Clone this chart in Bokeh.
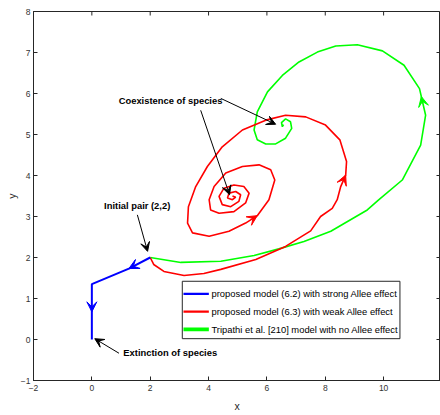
import math
from bokeh.plotting import figure
from bokeh.models import Arrow, VeeHead, Range1d, FixedTicker
from bokeh.core.properties import value
from bokeh.embed import file_html
from bokeh.resources import INLINE

# ---------------- data ----------------
strong_x = [2.0, 1.27, 0.0, 0.0]
strong_y = [2.0, 1.73, 1.35, 0.0]

weak_x = [2.0, 2.12, 2.47, 3.16, 3.84, 4.42, 5.62, 6.64, 7.50, 7.84, 8.24, 8.41,
          8.53, 8.70, 8.73, 8.50, 8.01, 7.33, 6.64, 5.96, 5.16, 4.47, 3.96, 3.56,
          3.31, 3.28, 3.45, 4.02, 4.70, 5.27, 5.67, 6.07, 6.27, 6.13, 5.73, 5.16,
          4.59, 4.19, 4.02, 4.07, 4.36, 4.87, 5.27, 5.39, 5.21, 4.87, 4.53, 4.36,
          4.47, 4.76, 5.04, 5.10, 4.93, 4.70, 4.65, 4.82, 4.93, 4.82]
weak_y = [2.0, 1.83, 1.66, 1.56, 1.61, 1.71, 1.95, 2.27, 2.65, 3.00, 3.20, 3.41,
          3.73, 4.01, 4.34, 4.87, 5.23, 5.43, 5.47, 5.35, 5.11, 4.70, 4.22, 3.73,
          3.24, 2.84, 2.60, 2.52, 2.64, 2.84, 3.02, 3.41, 3.89, 4.14, 4.26, 4.22,
          4.06, 3.73, 3.41, 3.16, 3.08, 3.12, 3.33, 3.57, 3.73, 3.77, 3.69, 3.49,
          3.29, 3.24, 3.37, 3.53, 3.61, 3.57, 3.45, 3.41, 3.47, 3.50]

none_x = [2.0, 3.05, 4.42, 5.56, 6.41, 7.27, 8.19, 9.44, 9.84, 10.64, 11.27, 11.44,
          11.23, 10.70, 9.96, 9.10, 8.36, 7.73, 7.10, 6.53, 6.02, 5.67, 5.56, 5.67,
          5.96, 6.30, 6.64, 6.85, 6.81, 6.64, 6.50, 6.53, 6.57]
none_y = [2.0, 1.88, 1.91, 2.05, 2.21, 2.39, 2.64, 3.16, 3.41, 3.89, 4.74, 5.47,
          6.12, 6.69, 7.04, 7.19, 7.16, 7.01, 6.77, 6.44, 6.04, 5.55, 5.11, 4.87,
          4.77, 4.77, 4.91, 5.15, 5.31, 5.38, 5.29, 5.19, 5.24]

legend_labels = ["proposed model (6.2) with strong Allee effect",
                 "proposed model (6.3) with weak Allee effect",
                 "Tripathi et al. [210] model with no Allee effect"]

x_ticks = [-2, 0, 2, 4, 6, 8, 10, 12]
y_ticks = [-1, 0, 1, 2, 3, 4, 5, 6, 7, 8]

BLUE = "#0000ff"
RED = "#ff0000"
GREEN = "#00ff00"
AX = "#262626"
FONT = "Liberation Sans"

X_MIN, X_MAX = -2, 11.95
Y_MIN, Y_MAX = -1, 8

# ---------------- figure ----------------
p = figure(width=440, height=415, x_range=Range1d(X_MIN, X_MAX),
           y_range=Range1d(Y_MIN, Y_MAX),
           output_backend="svg", toolbar_location=None,
           min_border_left=33, min_border_right=0, min_border_top=11,
           min_border_bottom=35)
p.background_fill_color = "white"
p.border_fill_color = "white"
p.outline_line_color = AX
p.outline_line_width = 1
p.grid.visible = False

p.xaxis.ticker = FixedTicker(ticks=x_ticks)
p.yaxis.ticker = FixedTicker(ticks=y_ticks)
p.xaxis.axis_label = "x"
p.yaxis.axis_label = "y"
for ax in (p.xaxis[0], p.yaxis[0]):
    ax.major_tick_in = 4
    ax.major_tick_out = 0
    ax.minor_tick_line_color = None
    ax.axis_line_color = AX
    ax.major_tick_line_color = AX
    ax.major_label_text_font = FONT
    ax.major_label_text_font_size = "8.5px"
    ax.major_label_text_color = "#333333"
    ax.major_label_standoff = 4
    ax.axis_label_text_font = FONT
    ax.axis_label_text_font_size = "10.5px"
    ax.axis_label_text_font_style = "normal"
    ax.axis_label_text_color = AX
p.xaxis[0].axis_label_standoff = 6
p.yaxis[0].axis_label_standoff = 0
p.yaxis[0].major_label_standoff = 3

# inner ticks on the top and right edges of the box
p.ray(x=x_ticks, y=[Y_MAX] * len(x_ticks), length=4, length_units="screen",
      angle=-math.pi / 2, line_color=AX, line_width=1)
p.ray(x=[X_MAX] * len(y_ticks), y=y_ticks, length=4, length_units="screen",
      angle=math.pi, line_color=AX, line_width=1)

# ---------------- curves ----------------
p.line(none_x, none_y, line_color=GREEN, line_width=1.6)
p.line(weak_x, weak_y, line_color=RED, line_width=1.6)
p.line(strong_x, strong_y, line_color=BLUE, line_width=2)


def curve_arrow(xs, ys, i, t, color):
    # arrow tip located on segment i -> i+1 at fraction t
    xe = xs[i] + t * (xs[i + 1] - xs[i])
    ye = ys[i] + t * (ys[i + 1] - ys[i])
    xs0 = xs[i] + (t - 0.05) * (xs[i + 1] - xs[i])
    ys0 = ys[i] + (t - 0.05) * (ys[i + 1] - ys[i])
    p.add_layout(Arrow(end=VeeHead(size=10, fill_color=color, line_color=color),
                       x_start=xs0, y_start=ys0, x_end=xe, y_end=ye,
                       line_alpha=0))


curve_arrow(strong_x, strong_y, 0, 1.0, BLUE)
curve_arrow(strong_x, strong_y, 2, 0.5, BLUE)
curve_arrow(weak_x, weak_y, 12, 1.0, RED)
curve_arrow(weak_x, weak_y, 29, 1.0, RED)
curve_arrow(none_x, none_y, 11, 0.7, GREEN)

# ---------------- annotations ----------------
ann_text = ["Coexistence of species", "Initial pair (2,2)", "Extinction of species"]
ann_x = [0.92, 0.42, 1.08]
ann_y = [5.84, 3.26, -0.32]
p.text(ann_x, ann_y, text=ann_text, text_font=value(FONT), text_font_style="bold",
       text_font_size="9.4px", text_color="black", text_baseline="middle",
       text_align="left")

arr_x0 = [3.73, 4.42, 1.56, 0.93]
arr_y0 = [5.59, 5.88, 3.04, -0.335]
arr_x1 = [4.72, 6.30, 1.91, 0.10]
arr_y1 = [3.53, 5.25, 2.15, 0.02]
for a, b, c, d in zip(arr_x0, arr_y0, arr_x1, arr_y1):
    p.add_layout(Arrow(end=VeeHead(size=9, fill_color="black", line_color="black"),
                       x_start=a, y_start=b, x_end=c, y_end=d,
                       line_color="black", line_width=1))

# ---------------- legend (drawn box) ----------------
leg_left, leg_right, leg_bottom, leg_top = 3.10, 10.56, 0.02, 1.42
row_y = [1.115, 0.678, 0.248]
p.quad(left=[leg_left], right=[leg_right], bottom=[leg_bottom], top=[leg_top],
       fill_color="white", line_color=AX, line_width=1)
p.segment(x0=[3.14] * 3, x1=[4.01] * 3, y0=row_y, y1=row_y,
          line_color=[BLUE, RED, GREEN], line_width=[2.3, 2.3, 3.6])
p.text([4.10] * 3, row_y, text=legend_labels, text_font=value(FONT),
       text_font_size="9.4px", text_color="black", text_baseline="middle",
       text_align="left")

open("out.html", "w").write(file_html(p, INLINE))
